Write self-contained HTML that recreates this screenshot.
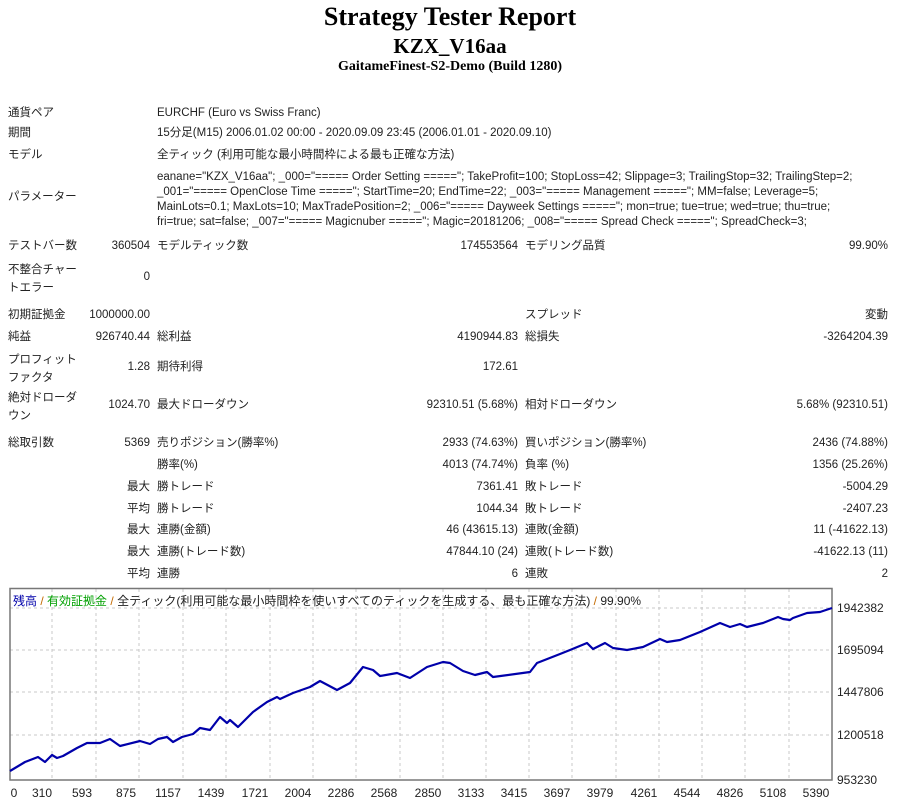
<!DOCTYPE html>
<html><head><meta charset="utf-8"><style>
body{margin:0;width:900px;height:805px;background:#fff;position:relative;overflow:hidden;font-family:"Liberation Sans","Noto Sans CJK JP",sans-serif;font-size:11.5px;color:#222}
.t{position:absolute;line-height:14px;white-space:nowrap}
.r{text-align:right}
.h{position:absolute;left:0;width:900px;text-align:center;font-family:"Liberation Serif","Noto Serif CJK SC",serif;font-weight:bold;color:#000}
</style></head><body>
<div class="h" style="top:2px;font-size:26px">Strategy Tester Report</div>
<div class="h" style="top:34px;font-size:21px">KZX_V16aa</div>
<div class="h" style="top:59px;font-size:14px">GaitameFinest-S2-Demo (Build 1280)</div>

<div class="t" style="left:8px;top:106px">通貨ペア</div><div class="t" style="left:157px;top:106px">EURCHF (Euro vs Swiss Franc)</div>
<div class="t" style="left:8px;top:126px">期間</div><div class="t" style="left:157px;top:126px">15分足(M15) 2006.01.02 00:00 - 2020.09.09 23:45 (2006.01.01 - 2020.09.10)</div>
<div class="t" style="left:8px;top:148px">モデル</div><div class="t" style="left:157px;top:148px">全ティック (利用可能な最小時間枠による最も正確な方法)</div>
<div class="t" style="left:8px;top:190px">パラメーター</div>
<div class="t" style="left:157px;top:170px;line-height:15px">eanane="KZX_V16aa"; _000="===== Order Setting ====="; TakeProfit=100; StopLoss=42; Slippage=3; TrailingStop=32; TrailingStep=2;<br>_001="===== OpenClose Time ====="; StartTime=20; EndTime=22; _003="===== Management ====="; MM=false; Leverage=5;<br>MainLots=0.1; MaxLots=10; MaxTradePosition=2; _006="===== Dayweek Settings ====="; mon=true; tue=true; wed=true; thu=true;<br>fri=true; sat=false; _007="===== Magicnuber ====="; Magic=20181206; _008="===== Spread Check ====="; SpreadCheck=3;</div>

<div class="t" style="left:8px;top:239px">テストバー数</div><div class="t r" style="right:750px;top:239px">360504</div><div class="t" style="left:157px;top:239px">モデルティック数</div><div class="t r" style="right:382px;top:239px">174553564</div><div class="t" style="left:525px;top:239px">モデリング品質</div><div class="t r" style="right:12px;top:239px">99.90%</div>
<div class="t" style="left:8px;top:261px;line-height:18px">不整合チャー<br>トエラー</div><div class="t r" style="right:750px;top:270px">0</div>

<div class="t" style="left:8px;top:308px">初期証拠金</div><div class="t r" style="right:750px;top:308px">1000000.00</div><div class="t" style="left:525px;top:308px">スプレッド</div><div class="t r" style="right:12px;top:308px">変動</div>
<div class="t" style="left:8px;top:330px">純益</div><div class="t r" style="right:750px;top:330px">926740.44</div><div class="t" style="left:157px;top:330px">総利益</div><div class="t r" style="right:382px;top:330px">4190944.83</div><div class="t" style="left:525px;top:330px">総損失</div><div class="t r" style="right:12px;top:330px">-3264204.39</div>
<div class="t" style="left:8px;top:351px;line-height:18px">プロフィット<br>ファクタ</div><div class="t r" style="right:750px;top:360px">1.28</div><div class="t" style="left:157px;top:360px">期待利得</div><div class="t r" style="right:382px;top:360px">172.61</div>
<div class="t" style="left:8px;top:389px;line-height:18px">絶対ドローダ<br>ウン</div><div class="t r" style="right:750px;top:398px">1024.70</div><div class="t" style="left:157px;top:398px">最大ドローダウン</div><div class="t r" style="right:382px;top:398px">92310.51 (5.68%)</div><div class="t" style="left:525px;top:398px">相対ドローダウン</div><div class="t r" style="right:12px;top:398px">5.68% (92310.51)</div>

<div class="t" style="left:8px;top:436px">総取引数</div><div class="t r" style="right:750px;top:436px">5369</div><div class="t" style="left:157px;top:436px">売りポジション(勝率%)</div><div class="t r" style="right:382px;top:436px">2933 (74.63%)</div><div class="t" style="left:525px;top:436px">買いポジション(勝率%)</div><div class="t r" style="right:12px;top:436px">2436 (74.88%)</div>
<div class="t" style="left:157px;top:458px">勝率(%)</div><div class="t r" style="right:382px;top:458px">4013 (74.74%)</div><div class="t" style="left:525px;top:458px">負率 (%)</div><div class="t r" style="right:12px;top:458px">1356 (25.26%)</div>
<div class="t r" style="right:750px;top:480px">最大</div><div class="t" style="left:157px;top:480px">勝トレード</div><div class="t r" style="right:382px;top:480px">7361.41</div><div class="t" style="left:525px;top:480px">敗トレード</div><div class="t r" style="right:12px;top:480px">-5004.29</div>
<div class="t r" style="right:750px;top:502px">平均</div><div class="t" style="left:157px;top:502px">勝トレード</div><div class="t r" style="right:382px;top:502px">1044.34</div><div class="t" style="left:525px;top:502px">敗トレード</div><div class="t r" style="right:12px;top:502px">-2407.23</div>
<div class="t r" style="right:750px;top:523px">最大</div><div class="t" style="left:157px;top:523px">連勝(金額)</div><div class="t r" style="right:382px;top:523px">46 (43615.13)</div><div class="t" style="left:525px;top:523px">連敗(金額)</div><div class="t r" style="right:12px;top:523px">11 (-41622.13)</div>
<div class="t r" style="right:750px;top:545px">最大</div><div class="t" style="left:157px;top:545px">連勝(トレード数)</div><div class="t r" style="right:382px;top:545px">47844.10 (24)</div><div class="t" style="left:525px;top:545px">連敗(トレード数)</div><div class="t r" style="right:12px;top:545px">-41622.13 (11)</div>
<div class="t r" style="right:750px;top:567px">平均</div><div class="t" style="left:157px;top:567px">連勝</div><div class="t r" style="right:382px;top:567px">6</div><div class="t" style="left:525px;top:567px">連敗</div><div class="t r" style="right:12px;top:567px">2</div>

<svg style="position:absolute;left:0;top:0" width="900" height="805">
<g stroke="#c8c8c8" stroke-dasharray="3,3" stroke-width="1">
<line x1="10" x2="832" y1="608" y2="608"/><line x1="10" x2="832" y1="650" y2="650"/><line x1="10" x2="832" y1="692" y2="692"/><line x1="10" x2="832" y1="735" y2="735"/>
<line x1="52" x2="52" y1="589" y2="780"/><line x1="96" x2="96" y1="589" y2="780"/><line x1="139" x2="139" y1="589" y2="780"/><line x1="183" x2="183" y1="589" y2="780"/><line x1="226" x2="226" y1="589" y2="780"/><line x1="270" x2="270" y1="589" y2="780"/><line x1="313" x2="313" y1="589" y2="780"/><line x1="356" x2="356" y1="589" y2="780"/><line x1="400" x2="400" y1="589" y2="780"/><line x1="443" x2="443" y1="589" y2="780"/><line x1="486" x2="486" y1="589" y2="780"/><line x1="529" x2="529" y1="589" y2="780"/><line x1="572" x2="572" y1="589" y2="780"/><line x1="616" x2="616" y1="589" y2="780"/><line x1="659" x2="659" y1="589" y2="780"/><line x1="702" x2="702" y1="589" y2="780"/><line x1="745" x2="745" y1="589" y2="780"/><line x1="789" x2="789" y1="589" y2="780"/>
</g>
<rect x="10" y="588.5" width="822" height="191.5" fill="none" stroke="#777" stroke-width="1.5"/>
<polyline fill="none" stroke="#0000aa" stroke-width="2.2" stroke-linejoin="round" points="10,771 25,762 38,757 45,762 52,755 57,758 63,756 77,748 87,743 100,743 110,739 120,746 140,741 150,744 158,739 167,737 173,742 182,737 193,734 200,728 210,730 220,717 227,723 230,720 238,727 253,712 267,702 277,697 280,699 293,693 310,687 320,681 337,690 350,683 363,667 373,670 380,676 397,673 410,678 427,667 443,662 450,663 463,671 475,675 487,672 493,677 530,672 537,663 560,654 570,650 587,643 593,649 605,643 613,648 627,650 643,647 660,639 667,642 680,640 700,632 720,623 730,627 740,624 747,627 763,623 778,617 783,619 790,620 793,618 807,613 820,612 832,608"/>
<g font-family="Liberation Sans, Noto Sans CJK JP, sans-serif" font-size="12" fill="#222">
<text x="837" y="612">1942382</text><text x="837" y="654">1695094</text><text x="837" y="696">1447806</text><text x="837" y="739">1200518</text><text x="837" y="784">953230</text>
<g text-anchor="middle">
<text x="14" y="797">0</text><text x="42" y="797">310</text><text x="82" y="797">593</text><text x="126" y="797">875</text><text x="168" y="797">1157</text><text x="211" y="797">1439</text><text x="255" y="797">1721</text><text x="298" y="797">2004</text><text x="341" y="797">2286</text><text x="384" y="797">2568</text><text x="428" y="797">2850</text><text x="471" y="797">3133</text><text x="514" y="797">3415</text><text x="557" y="797">3697</text><text x="600" y="797">3979</text><text x="644" y="797">4261</text><text x="687" y="797">4544</text><text x="730" y="797">4826</text><text x="773" y="797">5108</text><text x="816" y="797">5390</text>
</g>
<text x="13" y="605"><tspan fill="#0000aa">残高</tspan> <tspan fill="#c46a00">/</tspan> <tspan fill="#00a000">有効証拠金</tspan> <tspan fill="#c46a00">/</tspan> 全ティック(利用可能な最小時間枠を使いすべてのティックを生成する、最も正確な方法) <tspan fill="#c46a00">/</tspan> 99.90%</text>
</g>
</svg>
</body></html>
